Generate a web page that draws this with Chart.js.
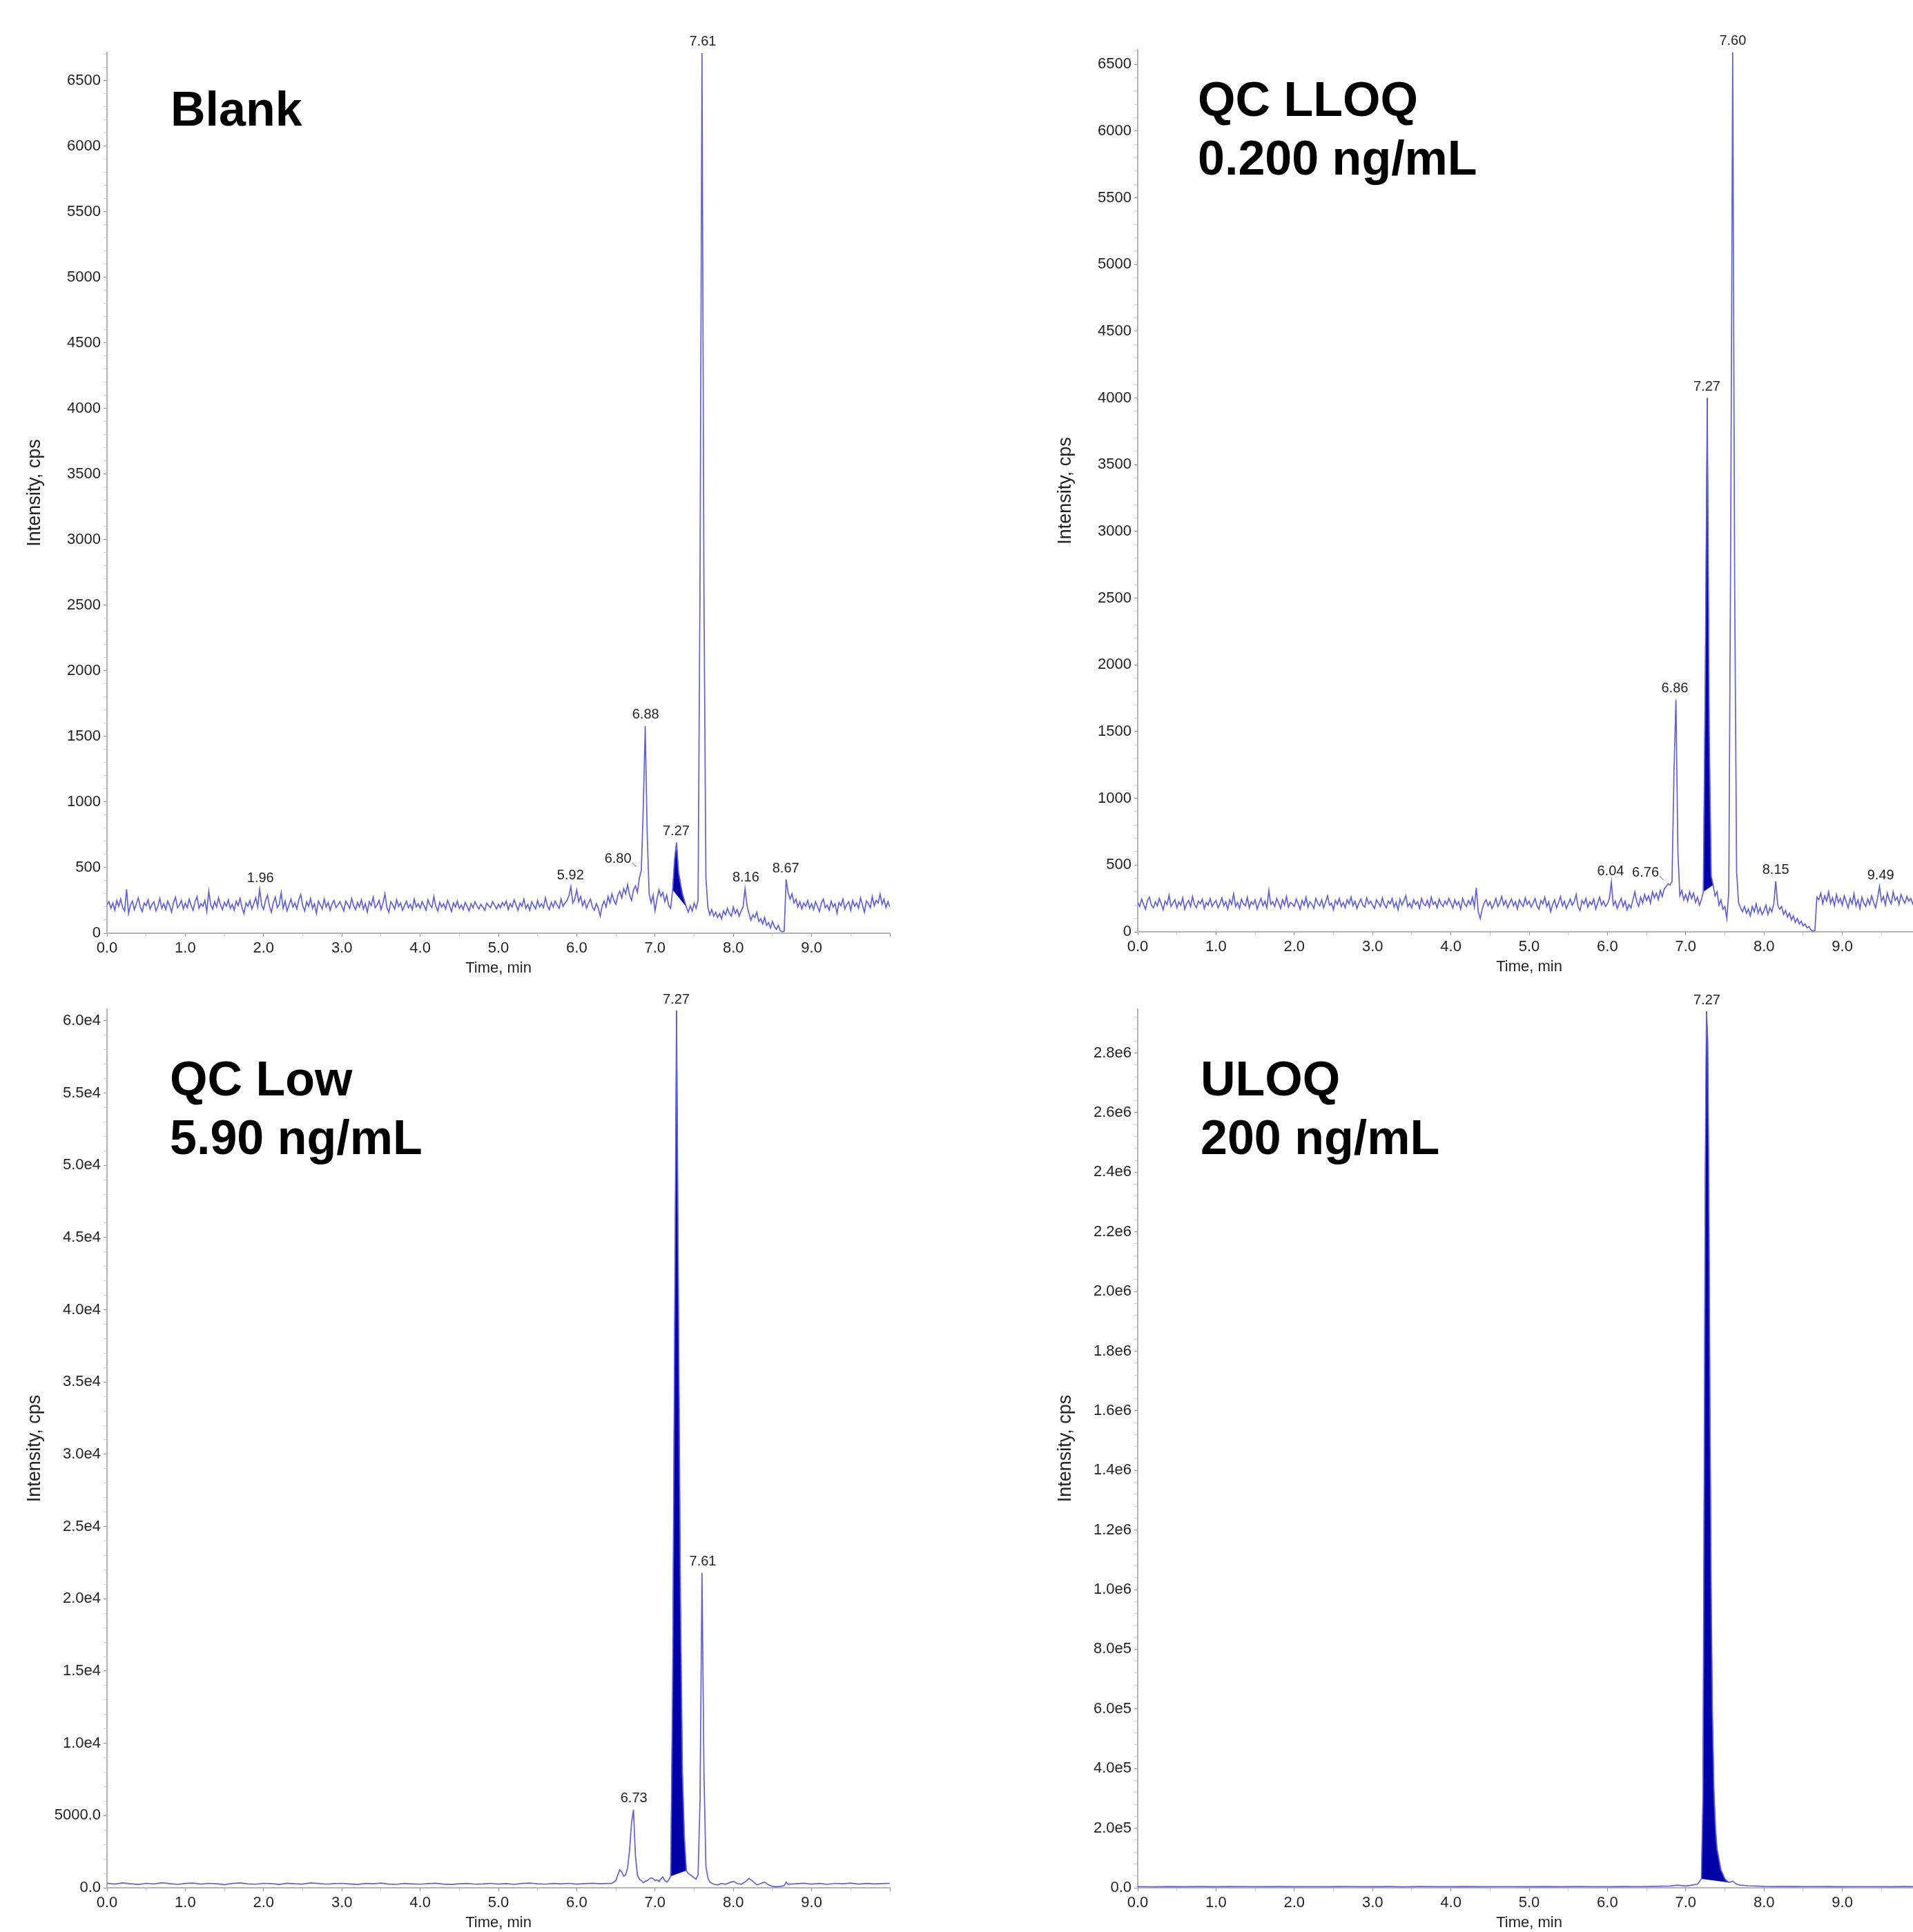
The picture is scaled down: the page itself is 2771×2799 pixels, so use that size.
<!DOCTYPE html>
<html>
<head>
<meta charset="utf-8">
<title>Chromatograms</title>
<script src="https://cdn.jsdelivr.net/npm/chart.js@4.4.1/dist/chart.umd.min.js"></script>
<style>
  html, body { margin: 0; padding: 0; background: #fff; }
  body { width: 2771px; height: 2799px; overflow: hidden; position: relative; }
  canvas { position: absolute; }
  #blankChart { left: 0; top: 0; }
  #lloqChart { left: 1493px; top: 0; }
  #lowChart { left: 0; top: 1390px; }
  #uloqChart { left: 1493px; top: 1390px; }
</style>
</head>
<body>
<canvas id="blankChart" width="1309" height="1416"></canvas>
<canvas id="lloqChart" width="1299" height="1414"></canvas>
<canvas id="lowChart" width="1309" height="1409"></canvas>
<canvas id="uloqChart" width="1299" height="1409"></canvas>
<script>
// Sampling interval (min) of the Blank and QC LLOQ traces
const scanStep = 0.025;

// Blank: intensity (cps) every scanStep from 0.0 to 10.0 min
const blankIntensity = [
  215, 240, 190, 230, 175, 250, 205, 260, 195, 170, 335, 150, 215, 245, 180, 225, 270, 200, 165, 230,
  210, 255, 185, 220, 240, 170, 205, 265, 190, 225, 180, 245, 210, 160, 235, 275, 195, 215, 250, 185,
  230, 195, 260, 210, 175, 240, 280, 190, 225, 205, 250, 165, 320, 215, 185, 240, 200, 270, 215, 180,
  235, 205, 255, 190, 220, 175, 245, 210, 265, 195, 150, 230, 205, 250, 185, 225, 270, 200, 335, 215,
  180, 250, 290, 205, 160, 235, 275, 195, 220, 310, 190, 245, 170, 215, 260, 200, 230, 185, 255, 295,
  210, 170, 240, 205, 265, 190, 225, 150, 245, 215, 185, 260, 200, 235, 175, 225, 250, 195, 215, 240,
  205, 170, 245, 220, 190, 265, 210, 180, 235, 200, 255, 185, 225, 160, 240, 210, 275, 195, 215, 250,
  180, 230, 300, 195, 160, 240, 215, 185, 255, 205, 230, 175, 210, 245, 195, 220, 180, 260, 200, 225,
  190, 240, 210, 175, 255, 215, 195, 280, 205, 170, 235, 200, 225, 185, 250, 210, 165, 230, 200, 245,
  190, 215, 180, 235, 205, 170, 225, 195, 240, 210, 185, 220, 200, 175, 230, 210, 195, 240, 215, 185,
  220, 195, 235, 210, 245, 180, 225, 200, 255, 215, 175, 230, 205, 260, 190, 220, 175, 240, 210, 185,
  250, 200, 225, 195, 270, 210, 180, 235, 200, 245, 215, 190, 260, 205, 230, 250, 285, 355, 230, 260,
  330, 240, 280, 210, 250, 190, 230, 260, 200, 175, 225, 190, 130, 210, 245, 200, 280, 230, 300, 250,
  220, 290, 320, 270, 340, 300, 370, 290, 250, 330, 360, 310, 420, 480, 950, 1580, 760, 300, 230, 290,
  170, 260, 330, 280, 310, 240, 290, 210, 190, 330, 560, 690, 470, 380, 300, 250, 200, 160, 210, 170,
  230, 190, 250, 2700, 6710, 2600, 420, 200, 140, 180, 130, 160, 120, 150, 110, 170, 140, 190, 150, 130,
  200, 150, 180, 130, 170, 200, 340, 210, 150, 100, 140, 120, 160, 90, 110, 70, 120, 60, 80, 40,
  90, 50, 30, 60, 20, 10, 15, 410, 310, 260, 300, 230, 260, 200, 240, 185, 230, 205, 250, 190,
  225, 180, 240, 205, 165, 230, 260, 195, 215, 175, 245, 200, 225, 150, 235, 210, 260, 185, 220, 240,
  175, 250, 205, 230, 190, 270, 215, 160, 245, 225, 195, 280, 210, 250, 230, 300, 220, 260, 195, 240,
  200
];

// QC LLOQ: intensity (cps) every scanStep from 0.0 to 10.0 min
const lloqIntensity = [
  220, 190, 245, 205, 170, 235, 260, 200, 180, 225, 195, 250, 210, 165, 230, 205, 275, 190, 215, 240,
  180, 225, 200, 255, 170, 210, 235, 190, 265, 205, 180, 230, 210, 245, 175, 220, 200, 250, 190, 215,
  235, 180, 210, 255, 195, 225, 170, 240, 205, 285, 190, 220, 175, 245, 210, 195, 260, 180, 225, 205,
  240, 170, 215, 250, 195, 230, 180, 310, 205, 225, 190, 250, 215, 175, 240, 200, 265, 185, 220, 210,
  190, 245, 210, 170, 235, 200, 260, 185, 225, 205, 175, 250, 215, 195, 240, 180, 225, 270, 200, 215,
  165, 235, 205, 250, 190, 220, 180, 240, 210, 260, 195, 230, 175, 215, 245, 200, 185, 255, 210, 230,
  200, 175, 240, 215, 190, 255, 205, 180, 230, 210, 250, 185, 220, 165, 245, 200, 235, 270, 190, 215,
  180, 240, 205, 225, 175, 250, 210, 195, 235, 185, 260, 205, 225, 180, 245, 210, 190, 230, 205, 250,
  215, 180, 240, 200, 225, 170, 250, 210, 190, 235, 205, 260, 185, 330, 150, 100, 170, 215, 240, 195,
  225, 175, 205, 250, 190, 220, 265, 200, 235, 180, 215, 245, 195, 225, 170, 240, 210, 190, 255, 205,
  230, 185, 215, 250, 195, 170, 235, 210, 260, 190, 225, 150, 205, 240, 180, 220, 265, 195, 230, 175,
  210, 245, 200, 225, 280, 190, 160, 235, 210, 250, 185, 225, 205, 245, 170, 215, 260, 200, 230, 190,
  210, 250, 372, 200, 230, 175, 215, 250, 190, 230, 165, 205, 180, 240, 300, 225, 190, 260, 215, 280,
  235, 270, 215, 300, 255, 290, 240, 310, 265, 320, 340, 360, 350, 380, 1200, 1740, 600, 270, 310, 240,
  280, 230, 300, 250, 290, 220, 260, 200, 240, 300, 1900, 4000, 1500, 420, 350, 270, 300, 200, 240, 170,
  190, 100, 300, 3000, 6590, 2600, 450, 220, 180, 150, 190, 140, 170, 120, 190, 150, 210, 140, 180, 130,
  160, 200, 130, 180, 150, 210, 380, 200, 170, 190, 130, 160, 110, 140, 90, 120, 70, 100, 60, 80,
  45, 60, 30, 40, 15, 5, 10, 260, 240, 290, 210, 270, 230, 300, 215, 255, 195, 280, 220, 250,
  200, 270, 225, 180, 250, 210, 285, 195, 240, 175, 260, 215, 190, 245, 205, 270, 220, 180, 250, 340,
  230, 265, 200, 290, 240, 210, 300, 235, 260, 205, 280, 240, 215, 265, 230, 250, 210, 240, 225, 260,
  230
];

// QC Low: retention time (min) and intensity (cps)
const lowTimes = [
  0.0, 0.1, 0.2, 0.3, 0.4, 0.5, 0.6, 0.7, 0.8, 0.9, 1.0, 1.1, 1.2, 1.3, 1.4, 1.5, 1.6, 1.7, 1.8, 1.9,
  2.0, 2.1, 2.2, 2.3, 2.4, 2.5, 2.6, 2.7, 2.8, 2.9, 3.0, 3.1, 3.2, 3.3, 3.4, 3.5, 3.6, 3.7, 3.8, 3.9,
  4.0, 4.1, 4.2, 4.3, 4.4, 4.5, 4.6, 4.7, 4.8, 4.9, 5.0, 5.1, 5.2, 5.3, 5.4, 5.5, 5.6, 5.7, 5.8, 5.9,
  6.0, 6.1, 6.2, 6.3, 6.4,
  6.45, 6.5, 6.525, 6.55, 6.575, 6.6, 6.625, 6.65, 6.675, 6.7, 6.725, 6.75, 6.775, 6.8, 6.825, 6.85,
  6.875, 6.9, 6.925, 6.95, 6.975,
  7.0, 7.025, 7.05, 7.075, 7.1, 7.125, 7.15, 7.175, 7.2, 7.225, 7.25, 7.275, 7.3, 7.325, 7.35, 7.375,
  7.4, 7.425, 7.45, 7.475, 7.5, 7.525, 7.55, 7.575, 7.6, 7.625, 7.65, 7.675, 7.7, 7.75, 7.8, 7.85,
  7.9, 7.95,
  8.0, 8.05, 8.1, 8.15, 8.2, 8.25, 8.3, 8.35, 8.4, 8.45, 8.5, 8.55, 8.6, 8.65, 8.675, 8.7, 8.8, 8.9,
  9.0, 9.1, 9.2, 9.3, 9.4, 9.5, 9.6, 9.7, 9.8, 9.9, 10.0
];
const lowIntensity = [
  320, 260, 340, 280, 230, 310, 270, 350, 290, 240, 300, 330, 260, 310, 280, 220, 300, 340, 270, 250,
  310, 290, 230, 320, 280, 260, 340, 300, 250, 290, 310, 270, 230, 300, 280, 330, 260, 240, 300, 270,
  250, 290, 320, 260, 230, 280, 300, 250, 270, 310, 260, 290, 240, 300, 330, 280, 250, 300, 270, 310,
  260, 290, 320, 280, 300,
  300, 500, 900, 1250, 1100, 800, 900, 1400, 2600, 4500, 5400, 2200, 900, 600, 500, 350,
  450, 500, 600, 700, 650,
  500, 550, 450, 600, 750, 500, 400, 550, 800, 14000, 38000, 60700, 40000, 20000, 8000, 3500,
  1200, 1000, 900, 800, 700, 600, 900, 6000, 21800, 8000, 1500, 700, 400, 250, 200, 300,
  250, 350,
  450, 300, 250, 400, 650, 450, 200, 300, 400, 200, 100, 80, 100, 150, 400, 250, 280, 320,
  260, 300, 240, 310, 280, 330, 260, 300, 270, 290, 310
];

// ULOQ: retention time (min) and intensity (cps)
const uloqTimes = [
  0.0, 0.2, 0.4, 0.6, 0.8, 1.0, 1.2, 1.4, 1.6, 1.8, 2.0, 2.2, 2.4, 2.6, 2.8, 3.0, 3.2, 3.4, 3.6, 3.8,
  4.0, 4.2, 4.4, 4.6, 4.8, 5.0, 5.2, 5.4, 5.6, 5.8, 6.0, 6.2, 6.4, 6.6, 6.8,
  6.9, 7.0, 7.05, 7.1, 7.15, 7.2, 7.22, 7.235, 7.25, 7.265, 7.28, 7.295, 7.31, 7.325, 7.34, 7.36,
  7.38, 7.4, 7.45, 7.5, 7.55, 7.6, 7.65, 7.7, 7.8, 7.9, 8.0,
  8.2, 8.4, 8.6, 8.8, 9.0, 9.2, 9.4, 9.6, 9.8, 10.0
];
const uloqIntensity = [
  4000, 3500, 4500, 3800, 4200, 3600, 4400, 4000, 3700, 4300, 3900, 4100, 3600, 4500, 4000, 3800, 4200, 3500, 4300, 4000,
  3900, 4400, 3700, 4100, 4000, 3600, 4300, 3800, 4200, 4000, 3700, 4500, 4100, 5000, 6000,
  9000, 6000, 8000, 10000, 12000, 30000, 300000, 1300000, 2400000, 2940000, 2850000, 2350000, 1600000, 1000000, 600000, 330000,
  200000, 130000, 60000, 30000, 18000, 22000, 12000, 9000, 7000, 6000, 5000,
  4500, 4200, 4000, 4300, 3900, 4100, 4000, 3800, 4200, 4000
];

// Integrated (filled) peak windows, min
const blankWindow = [7.225, 7.4];
const lloqWindow = [7.225, 7.35];
const lowWindow = [7.2, 7.4];
const uloqWindow = [7.2, 7.55];

// Peak retention-time labels
const blankPeaks = ['1.96', '5.92', '6.80', '6.88', '7.27', '7.61', '8.16', '8.67'];
const lloqPeaks = ['6.04', '6.76', '6.86', '7.27', '7.60', '8.15', '9.49'];
const lowPeaks = ['6.73', '7.27', '7.61'];
const uloqPeaks = ['7.27'];

// Panel captions
const blankTitle = ['Blank'];
const lloqTitle = ['QC LLOQ', '0.200 ng/mL'];
const lowTitle = ['QC Low', '5.90 ng/mL'];
const uloqTitle = ['ULOQ', '200 ng/mL'];

// Axis extents
const timeMax = 10;
const blankYMax = 6715;
const lloqYMax = 6610;
const lowYMax = 60800;
const uloqYMax = 2947000;

const sansFont = '"Liberation Sans", Arial, Helvetica, sans-serif';
const traceColor = '#5e5eee';
const fillColor = '#0000a8';

function gridTimes(n) {
  const out = [];
  for (let i = 0; i < n; i++) out.push(Math.round(i * scanStep * 1000) / 1000);
  return out;
}

function plainFormat(v) {
  return String(v);
}

function sciFormat(v) {
  if (v === 0) return '0.0';
  if (v < 10000) return v.toFixed(1);
  return v.toExponential(1).replace('+', '');
}

// draws the peak labels and the big caption on each panel
const peakAnnotations = {
  id: 'peakAnnotations',
  afterDatasetsDraw(chart, args, opts) {
    const { ctx, chartArea } = chart;
    const xs = chart.scales.x;
    const ys = chart.scales.y;
    const trace = chart.data.datasets[0].data;

    ctx.save();
    ctx.fillStyle = '#222';
    ctx.strokeStyle = '#555';
    ctx.lineWidth = 1;
    ctx.font = '20px ' + sansFont;
    ctx.textAlign = 'center';
    ctx.textBaseline = 'bottom';
    opts.labels.forEach(text => {
      const t = parseFloat(text);
      let top = -Infinity;
      trace.forEach(p => {
        if (Math.abs(p.x - t) <= 0.03 && p.y > top) top = p.y;
      });
      const px = xs.getPixelForValue(t);
      const py = ys.getPixelForValue(top);
      const shift = (opts.shifted && opts.shifted[text]) || 0;
      ctx.fillText(text, px + shift, py - 6);
      if (shift) {
        const right = px + shift + ctx.measureText(text).width / 2;
        ctx.beginPath();
        ctx.moveTo(right + 1, py - 11);
        ctx.lineTo(right + 7, py - 5);
        ctx.stroke();
      }
    });

    ctx.fillStyle = '#000';
    ctx.font = 'bold 70px ' + sansFont;
    ctx.textAlign = 'left';
    ctx.textBaseline = 'alphabetic';
    opts.title.forEach((line, i) => {
      ctx.fillText(line, chartArea.left + opts.titleAt.x, chartArea.top + opts.titleAt.y + i * 85);
    });
    ctx.restore();
  }
};

function buildChart(p) {
  const points = p.times.map((t, i) => ({ x: t, y: p.values[i] }));
  const peakPoints = points.filter(pt => pt.x >= p.window[0] - 1e-6 && pt.x <= p.window[1] + 1e-6);
  const baseline = [peakPoints[0], peakPoints[peakPoints.length - 1]];

  const tickFont = { family: sansFont, size: 22 };
  const axisBorder = { display: true, color: '#b4b4b4', width: 2 };

  return new Chart(document.getElementById(p.id), {
    type: 'line',
    data: {
      datasets: [
        { data: points, borderColor: traceColor, borderWidth: 1.7, pointRadius: 0, fill: false, tension: 0 },
        { data: peakPoints, borderColor: fillColor, borderWidth: 1, backgroundColor: fillColor, pointRadius: 0, fill: 2, tension: 0 },
        { data: baseline, borderColor: 'rgba(0,0,0,0)', borderWidth: 1, pointRadius: 0, fill: false }
      ]
    },
    options: {
      responsive: false,
      animation: false,
      events: [],
      layout: { padding: { top: p.padTop, right: p.padRight, bottom: 0, left: 0 } },
      plugins: {
        legend: { display: false },
        tooltip: { enabled: false },
        peakAnnotations: { labels: p.labels, shifted: p.shifted, title: p.title, titleAt: p.titleAt }
      },
      scales: {
        x: {
          type: 'linear',
          min: 0,
          max: timeMax,
          afterFit: s => { s.height = 64; },
          border: axisBorder,
          grid: {
            drawOnChartArea: false,
            tickLength: 5,
            tickColor: c => (c.tick && Number.isInteger(c.tick.value)) ? '#8a8a8a' : '#c8c8c8'
          },
          ticks: {
            stepSize: 0.5,
            autoSkip: false,
            maxRotation: 0,
            includeBounds: false,
            padding: 4,
            color: '#222',
            font: tickFont,
            callback: v => (Number.isInteger(v) && v < timeMax) ? v.toFixed(1) : ''
          },
          title: {
            display: true,
            text: 'Time, min',
            color: '#222',
            font: tickFont,
            padding: { top: 0, bottom: 0 }
          }
        },
        y: {
          type: 'linear',
          min: 0,
          max: p.yMax,
          afterFit: s => { s.width = 155; },
          // one tick per minor step from zero, labels only on the major ones
          afterBuildTicks: s => {
            const ticks = [];
            for (let k = 0; k * p.minorStep <= p.yMax; k++) ticks.push({ value: k * p.minorStep });
            s.ticks = ticks;
          },
          border: axisBorder,
          grid: {
            drawOnChartArea: false,
            tickLength: 5,
            tickColor: c => (c.tick && c.tick.value % p.majorStep === 0) ? '#8a8a8a' : '#d0d0d0'
          },
          ticks: {
            autoSkip: false,
            padding: 4,
            color: '#222',
            font: tickFont,
            callback: v => (v % p.majorStep === 0) ? p.format(v) : ''
          },
          title: {
            display: true,
            text: 'Intensity, cps',
            color: '#222',
            font: { family: sansFont, size: 27 },
            padding: { top: 34, bottom: 0 }
          }
        }
      }
    },
    plugins: [peakAnnotations]
  });
}

const panels = [
  {
    id: 'blankChart', times: gridTimes(blankIntensity.length), values: blankIntensity,
    window: blankWindow, labels: blankPeaks, title: blankTitle, yMax: blankYMax,
    minorStep: 100, majorStep: 500, format: plainFormat,
    padTop: 76, padRight: 20, titleAt: { x: 92, y: 106 }, shifted: { '6.80': -31 }
  },
  {
    id: 'lloqChart', times: gridTimes(lloqIntensity.length), values: lloqIntensity,
    window: lloqWindow, labels: lloqPeaks, title: lloqTitle, yMax: lloqYMax,
    minorStep: 100, majorStep: 500, format: plainFormat,
    padTop: 72, padRight: 10, titleAt: { x: 87, y: 96 }, shifted: { '6.76': -31 }
  },
  {
    id: 'lowChart', times: lowTimes, values: lowIntensity,
    window: lowWindow, labels: lowPeaks, title: lowTitle, yMax: lowYMax,
    minorStep: 1000, majorStep: 5000, format: sciFormat,
    padTop: 72, padRight: 20, titleAt: { x: 91, y: 125 }, shifted: {}
  },
  {
    id: 'uloqChart', times: uloqTimes, values: uloqIntensity,
    window: uloqWindow, labels: uloqPeaks, title: uloqTitle, yMax: uloqYMax,
    minorStep: 40000, majorStep: 200000, format: sciFormat,
    padTop: 72, padRight: 10, titleAt: { x: 91, y: 125 }, shifted: {}
  }
];

panels.forEach(buildChart);
</script>
</body>
</html>
